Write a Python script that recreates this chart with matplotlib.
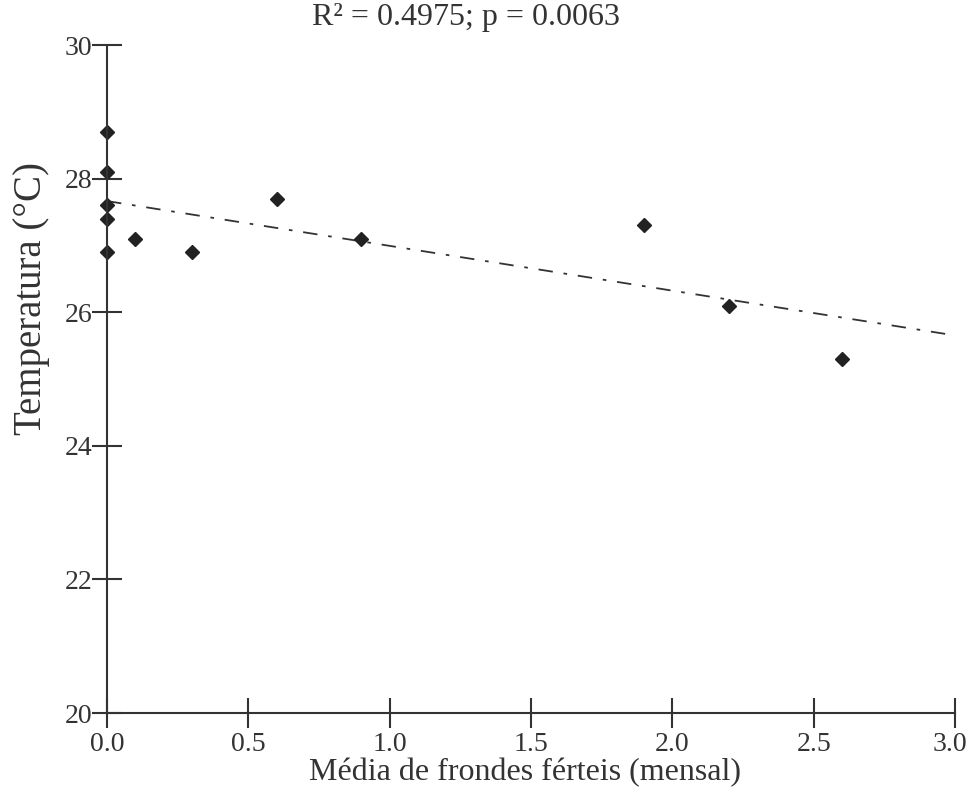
import matplotlib
matplotlib.use('Agg')
import matplotlib.pyplot as plt
import matplotlib.transforms as transforms
import numpy as np

plt.rcParams['font.family'] = 'Liberation Serif'

# data
frondes = [0.0, 0.0, 0.0, 0.0, 0.0, 0.1, 0.3, 0.6, 0.9, 1.9, 2.2, 2.6]
temperatura = [28.7, 28.1, 27.6, 27.4, 26.9, 27.1, 26.9, 27.7, 27.1, 27.3, 26.1, 25.3]

x = np.array(frondes)
y = np.array(temperatura)
slope, intercept = np.polyfit(x, y, 1)

fig = plt.figure(figsize=(9.7, 7.94), dpi=100)
ax = fig.add_axes([0.1103, 0.102, 0.8742, 0.8413])

xl = np.array([0.0, 3.0])
ax.plot(xl, intercept + slope * xl, color='#333333', lw=1.3, linestyle=(0, (8, 6, 2, 6)), zorder=1)
ax.plot(x, y, 'D', color='#222222', ms=7, zorder=2, clip_on=False)

ax.set_xlim(0, 3.0)
ax.set_ylim(20, 30)
ax.set_xticks(np.arange(0, 3.01, 0.5))
ax.set_xticklabels(['%.1f' % v for v in np.arange(0, 3.01, 0.5)])
ax.set_yticks([20, 22, 24, 26, 28, 30])

for s in ['top', 'right']:
    ax.spines[s].set_visible(False)
for s in ['left', 'bottom']:
    ax.spines[s].set_linewidth(1.5)
    ax.spines[s].set_color('#333333')

ax.tick_params(axis='both', direction='inout', length=21, width=1.5, color='#333333',
               labelsize=20, labelcolor='#333333')
ax.tick_params(axis='x', pad=3)
ax.tick_params(axis='y', pad=0)

# nudge the last x tick label so it stays inside the figure
last = ax.get_xticklabels()[-1]
last.set_transform(last.get_transform() + transforms.ScaledTranslation(-4/72.0, 0, fig.dpi_scale_trans))

ax.set_xlabel('Média de frondes férteis (mensal)', fontsize=23, color='#333333')
ax.xaxis.set_label_coords(0.493, -0.068)
ax.set_ylabel('Temperatura (°C)', fontsize=28, color='#333333')
ax.yaxis.set_label_coords(-0.067, 0.62)
fig.text(0.48, 0.978, 'R² = 0.4975; p = 0.0063', fontsize=23, color='#333333',
         ha='center', va='center')

fig.savefig('out.png', dpi=100)
